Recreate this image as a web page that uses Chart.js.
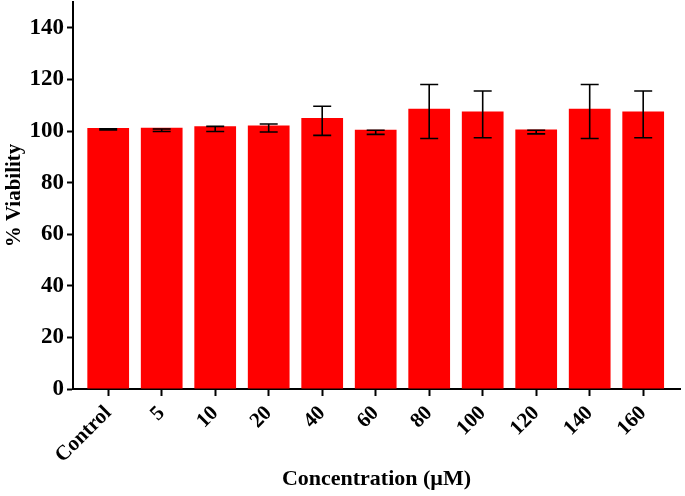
<!DOCTYPE html>
<html>
<head>
<meta charset="utf-8">
<script src="https://cdn.jsdelivr.net/npm/chart.js@4"></script>
<style>
  html, body { margin: 0; padding: 0; background: #fff; }
  #wrap { width: 685px; height: 496px; }
</style>
</head>
<body>
<div id="wrap"><canvas id="viability"></canvas></div>
<script>
// values
const concentrations = ["Control", "5", "10", "20", "40", "60", "80", "100", "120", "140", "160"];
const viability = [101.2, 101.3, 101.8, 102.1, 105.0, 100.5, 108.6, 107.6, 100.6, 108.6, 107.6];
const errUpper = [100.9, 100.8, 101.8, 102.7, 109.6, 100.3, 118.0, 115.5, 100.3, 118.0, 115.5];
const errLower = [100.4, 99.8, 99.8, 99.6, 98.3, 98.7, 97.1, 97.4, 98.9, 97.1, 97.4];
const yTicks = [0, 20, 40, 60, 80, 100, 120, 140];

const font = (size) => ({ family: "'Liberation Serif', 'Times New Roman', serif", size: size, weight: "bold" });

const errorBars = {
  id: "errorBars",
  afterDatasetsDraw(chart) {
    const { ctx } = chart;
    const y = chart.scales.y;
    const bars = chart.getDatasetMeta(0).data;
    ctx.save();
    ctx.strokeStyle = "#000";
    ctx.lineWidth = 1.6;
    bars.forEach((bar, i) => {
      const top = y.getPixelForValue(errUpper[i]);
      const bottom = y.getPixelForValue(errLower[i]);
      const half = 9;
      ctx.beginPath();
      ctx.moveTo(bar.x, top);
      ctx.lineTo(bar.x, bottom);
      ctx.moveTo(bar.x - half, top);
      ctx.lineTo(bar.x + half, top);
      ctx.moveTo(bar.x - half, bottom);
      ctx.lineTo(bar.x + half, bottom);
      ctx.stroke();
    });
    ctx.restore();
  },
};

new Chart(document.getElementById("viability"), {
  type: "bar",
  data: {
    datasets: [
      {
        data: viability.map((v, i) => ({ x: i, y: v })),
        backgroundColor: "#ff0000",
        borderWidth: 0,
        barPercentage: 0.78,
        categoryPercentage: 1,
      },
    ],
  },
  options: {
    responsive: true,
    maintainAspectRatio: false,
    animation: false,
    layout: { padding: { top: 2, right: 5, left: 0, bottom: 0 } },
    plugins: {
      legend: { display: false },
      tooltip: { enabled: false },
    },
    scales: {
      x: {
        type: "linear",
        offset: false,
        min: -0.658,
        max: 10.688,
        afterFit: (scale) => {
          scale.height = 107;
          scale.paddingLeft = 0;
          scale.paddingRight = 0;
        },
        afterBuildTicks: (scale) => {
          scale.ticks = concentrations.map((c, i) => ({ value: i }));
        },
        ticks: {
          includeBounds: false,
          stepSize: 1,
          autoSkip: false,
          minRotation: 45,
          maxRotation: 45,
          color: "#000",
          font: font(21),
          padding: 5,
          callback: (v) => concentrations[v],
        },
        grid: { display: true, offset: false, drawOnChartArea: false, drawTicks: true, tickLength: 7, tickWidth: 2, tickColor: "#000" },
        border: { display: true, color: "#000", width: 2 },
        title: { display: true, text: "Concentration (µM)", color: "#000", font: font(22), padding: { top: 0, bottom: 3 } },
      },
      y: {
        min: 0,
        max: 150,
        afterFit: (scale) => {
          scale.width = 73;
          scale.paddingTop = 0;
          scale.paddingBottom = 0;
        },
        afterBuildTicks: (scale) => {
          scale.ticks = yTicks.map((v) => ({ value: v }));
        },
        ticks: { color: "#000", font: font(23), padding: 3 },
        grid: { display: true, drawOnChartArea: false, drawTicks: true, tickLength: 6, tickWidth: 2, tickColor: "#000" },
        border: { display: true, color: "#000", width: 2 },
        title: { display: true, text: "% Viability", color: "#000", font: font(21), padding: { top: 2, bottom: 0 } },
      },
    },
  },
  plugins: [errorBars],
});
</script>
</body>
</html>
